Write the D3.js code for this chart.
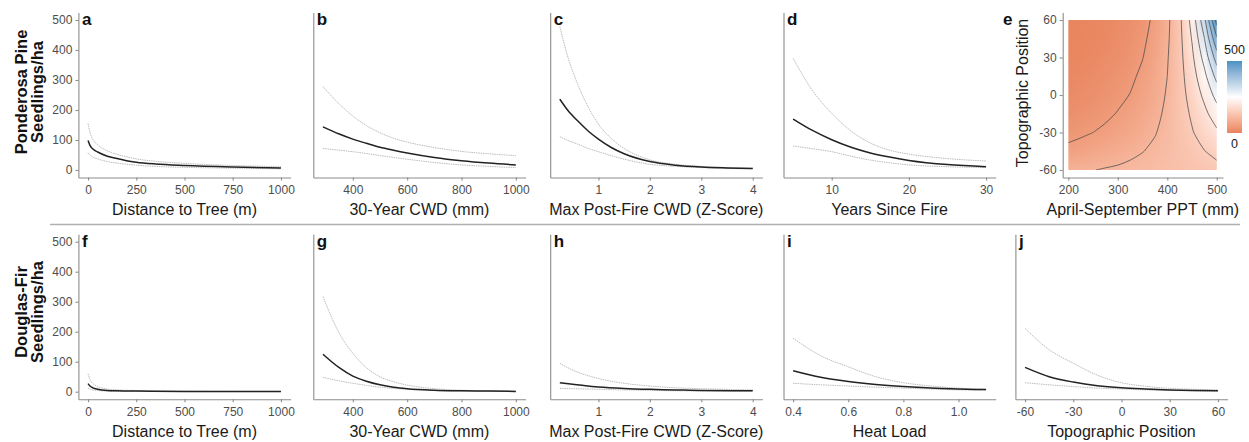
<!DOCTYPE html>
<html>
<head>
<meta charset="utf-8">
<script src="https://cdn.jsdelivr.net/npm/d3@7"></script>
<style>
    body { margin: 0; background: #fff; }
    svg { display: block; font-family: "Liberation Sans", Arial, Helvetica, sans-serif; }
    .axis .domain, .axis .tick line { stroke: #8c8c8c; stroke-width: 1.1; }
    .axis .tick text { fill: #4d4d4d; font-size: 12px; }
    .axis-title { font-size: 16px; fill: #1a1a1a; }
    .row-title { font-size: 16.5px; font-weight: bold; fill: #111; }
    .panel-letter { font-size: 17px; font-weight: bold; fill: #111; }
    .ci { fill: none; stroke: #bdbdbd; stroke-width: 1; stroke-dasharray: 1.5 0.8; }
    .mean { fill: none; stroke: #222; stroke-width: 1.5; }
    .contour { fill: none; stroke: #4a4a4a; stroke-width: 0.9; stroke-opacity: .85; }
    .legend-label { font-size: 12.5px; fill: #1a1a1a; }
</style>
</head>
<body>
<script>

// Data ////////////////////////////////////

// Ponderosa pine
const distX = [0, 10, 25, 50, 100, 150, 200, 250, 350, 500, 750, 1000];
const ppDistMean  = [98, 82, 70, 60, 46, 38, 31, 26, 20, 15, 10, 7];
const ppDistUpper = [155, 125, 102, 84, 64, 52, 44, 37, 29, 22, 15, 11];
const ppDistLower = [58, 50, 43, 37, 28, 23, 19, 16, 12, 9, 6, 4];

const cwdX = [290, 350, 400, 450, 500, 550, 600, 700, 800, 900, 1000];
const ppCwdMean  = [144, 120, 103, 89, 76, 66, 57, 42, 31, 23, 17];
const ppCwdUpper = [278, 220, 180, 148, 124, 106, 93, 75, 62, 54, 48];
const ppCwdLower = [72, 66, 61, 55, 48, 42, 36, 25, 17, 12, 8];

const zX = [0.25, 0.4, 0.6, 0.8, 1, 1.25, 1.5, 2, 2.5, 3, 3.5, 4];
const ppZMean  = [236, 200, 163, 130, 103, 75, 54, 28, 16, 10, 7, 5];
const ppZUpper = [478, 380, 285, 210, 153, 105, 72, 34, 19, 12, 8, 6];
const ppZLower = [111, 99, 86, 72, 61, 48, 36, 19, 12, 8, 5, 4];

const yrsX = [5, 7.5, 10, 12.5, 15, 17.5, 20, 25, 30];
const ppYrsMean  = [170, 132, 101, 76, 57, 43, 32, 18, 11];
const ppYrsUpper = [372, 265, 189, 130, 90, 66, 53, 38, 30];
const ppYrsLower = [80, 71, 61, 46, 33, 24, 17, 11, 8];

// panel e: seedlings/ha on a PPT x topographic position grid
const pptValues = [200, 225, 250, 275, 300, 325, 350, 375, 400, 425, 450, 475, 500];
const tpiValues = [-60, -45, -30, -15, 0, 15, 30, 45, 60];
const pptTpiGrid = [
    [93, 96, 99, 103, 106, 110, 113, 117, 121, 125, 129, 133, 137],
    [60, 65, 71, 77, 83, 91, 99, 107, 116, 126, 137, 149, 162],
    [38, 44, 50, 57, 66, 75, 86, 98, 112, 128, 147, 168, 192],
    [25, 30, 36, 43, 52, 62, 75, 90, 108, 130, 156, 188, 226],
    [16, 20, 25, 32, 41, 51, 65, 82, 104, 132, 167, 211, 268],
    [10, 14, 18, 24, 32, 43, 57, 75, 100, 134, 178, 237, 316],
    [6.5, 9, 13, 18, 25, 35, 49, 69, 97, 136, 190, 267, 374],
    [4, 6, 9, 13, 20, 29, 43, 63, 93, 138, 203, 299, 442],
    [3, 4, 6, 10, 16, 24, 37, 58, 90, 140, 217, 336, 522]
];
const contourLevels = [50, 100, 150, 200, 250, 300, 350, 400, 450, 500];

// Douglas-fir
const dfDistX = [0, 10, 25, 50, 100, 150, 250, 500, 750, 1000];
const dfDistMean  = [27, 19, 13, 8, 4, 3, 2, 1, 0.5, 0.3];
const dfDistUpper = [60, 40, 27, 17, 9, 6, 4, 2, 1, 0.8];
const dfDistLower = [12, 9, 6, 4, 2, 1.5, 1, 0.4, 0.2, 0.1];

const dfCwdMean  = [125, 80, 52, 35, 23, 15, 10, 5, 3, 2, 1];
const dfCwdUpper = [317, 195, 128, 80, 50, 33, 22, 10, 5, 3, 2];
const dfCwdLower = [48, 36, 28, 21, 15, 11, 8, 4, 2, 1, 0.5];

const dfZX = [0.25, 0.5, 0.75, 1, 1.5, 2, 2.5, 3, 4];
const dfZMean  = [30, 25, 20, 16, 11, 8, 6, 4, 3];
const dfZUpper = [95, 72, 56, 44, 28, 19, 13, 10, 6];
const dfZLower = [11, 10, 9, 8, 6, 4.5, 3, 2.5, 1.5];

const heatX = [0.4, 0.5, 0.6, 0.7, 0.8, 0.9, 1.0, 1.1];
const dfHeatMean  = [70, 48, 34, 24, 17, 12, 9, 7];
const dfHeatUpper = [178, 120, 83, 50, 30, 19, 12, 8];
const dfHeatLower = [28, 23, 19, 15, 12, 9, 6, 5];

const tpiX = [-60, -45, -30, -15, 0, 15, 30, 45, 60];
const dfTpiMean  = [81, 50, 32, 20, 13, 9, 6, 4, 3];
const dfTpiUpper = [211, 140, 95, 55, 30, 18, 11, 8, 6];
const dfTpiLower = [30, 23, 17, 12, 9, 6, 4, 3, 2];

// tick labels
const seedTicks = [0, 100, 200, 300, 400, 500];
const distTicks = [0, 250, 500, 750, 1000];
const cwdTicks = [400, 600, 800, 1000];
const zTicks = [1, 2, 3, 4];
const yrsTicks = [10, 20, 30];
const heatTicks = [0.4, 0.6, 0.8, 1.0];
const tpiTicks = [-60, -30, 0, 30, 60];
const pptTicks = [200, 300, 400, 500];
const legendTicks = [0, 500];

// Layout ////////////////////////////////////

const dim = { width: 1249, height: 442 };
const rows = [
    { top: 12.5, bottom: 177.5, labelY: 92, species: "Ponderosa Pine" },
    { top: 234.2, bottom: 399.2, labelY: 312, species: "Douglas-Fir" }
];
const plotW = 212.2;
const expand = 0.05;

const panels = [
    { row: 0, left: 78.4, letter: "a", x: distX, mean: ppDistMean, upper: ppDistUpper, lower: ppDistLower, ticks: distTicks, title: "Distance to Tree (m)", yTicks: true },
    { row: 0, left: 313.3, letter: "b", x: cwdX, mean: ppCwdMean, upper: ppCwdUpper, lower: ppCwdLower, ticks: cwdTicks, title: "30-Year CWD (mm)" },
    { row: 0, left: 550.2, letter: "c", x: zX, mean: ppZMean, upper: ppZUpper, lower: ppZLower, ticks: zTicks, title: "Max Post-Fire CWD (Z-Score)" },
    { row: 0, left: 783.5, letter: "d", x: yrsX, mean: ppYrsMean, upper: ppYrsUpper, lower: ppYrsLower, ticks: yrsTicks, title: "Years Since Fire" },
    { row: 1, left: 78.4, letter: "f", x: dfDistX, mean: dfDistMean, upper: dfDistUpper, lower: dfDistLower, ticks: distTicks, title: "Distance to Tree (m)", yTicks: true },
    { row: 1, left: 313.3, letter: "g", x: cwdX, mean: dfCwdMean, upper: dfCwdUpper, lower: dfCwdLower, ticks: cwdTicks, title: "30-Year CWD (mm)" },
    { row: 1, left: 550.2, letter: "h", x: dfZX, mean: dfZMean, upper: dfZUpper, lower: dfZLower, ticks: zTicks, title: "Max Post-Fire CWD (Z-Score)" },
    { row: 1, left: 783.5, letter: "i", x: heatX, mean: dfHeatMean, upper: dfHeatUpper, lower: dfHeatLower, ticks: heatTicks, title: "Heat Load", fmt: d3.format(".1f") },
    { row: 1, left: 1015.4, letter: "j", x: tpiX, mean: dfTpiMean, upper: dfTpiUpper, lower: dfTpiLower, ticks: tpiTicks, title: "Topographic Position" }
];

const svg = d3.select("body").append("svg")
    .attr("width", dim.width)
    .attr("height", dim.height);

// ggplot style expanded scales
function expanded(lo, hi) {
    const pad = (hi - lo) * expand;
    return [lo - pad, hi + pad];
}

function yScale(row) {
    return d3.scaleLinear()
        .domain(expanded(0, 500))
        .range([row.bottom, row.top]);
}

function addAxes(g, x, y, ticks, fmt, yTicks) {

    const xAxis = d3.axisBottom(x)
        .tickValues(ticks)
        .tickFormat(fmt || (d => String(d)))
        .tickSize(3)
        .tickSizeOuter(0)
        .tickPadding(5);

    g.append("g")
        .attr("class", "axis x")
        .attr("transform", `translate(0, ${ y.range()[0] })`)
        .call(xAxis);

    const yAxis = d3.axisLeft(y)
        .tickValues(yTicks || [])
        .tickFormat(d => String(d))
        .tickSize(3)
        .tickSizeOuter(0)
        .tickPadding(3);

    g.append("g")
        .attr("class", "axis y")
        .attr("transform", `translate(${ x.range()[0] }, 0)`)
        .call(yAxis);
}

function axisTitle(x, y, title) {
    const [x0, x1] = x.range();
    svg.append("text")
        .attr("class", "axis-title")
        .attr("x", (x0 + x1) / 2)
        .attr("y", y.range()[0] + 37.5)
        .attr("text-anchor", "middle")
        .text(title);
}

function panelLetter(x, y, letter) {
    svg.append("text")
        .attr("class", "panel-letter")
        .attr("x", x.range()[0] + 3.5)
        .attr("y", y.range()[1] + 12.5)
        .text(letter);
}

// Row titles ////////////////////////////////////

rows.forEach(row => {
    const t = svg.append("g")
        .attr("transform", `translate(0, ${ row.labelY })`);
    t.append("text")
        .attr("class", "row-title")
        .attr("transform", "translate(27, 0) rotate(-90)")
        .attr("text-anchor", "middle")
        .text(row.species);
    t.append("text")
        .attr("class", "row-title")
        .attr("transform", "translate(42.5, 0) rotate(-90)")
        .attr("text-anchor", "middle")
        .text("Seedlings/ha");
});

// separator between species
svg.append("line")
    .attr("x1", 50).attr("x2", 1240)
    .attr("y1", 224.5).attr("y2", 224.5)
    .attr("stroke", "#b0b0b0")
    .attr("stroke-width", 1.5);

// Line panels ////////////////////////////////////

panels.forEach(p => {

    const row = rows[p.row];
    const x = d3.scaleLinear()
        .domain(expanded(d3.min(p.x), d3.max(p.x)))
        .range([p.left, p.left + plotW]);
    const y = yScale(row);

    const g = svg.append("g");
    addAxes(g, x, y, p.ticks, p.fmt, p.yTicks ? seedTicks : null);

    const line = d3.line()
        .curve(d3.curveMonotoneX)
        .x(d => x(d[0]))
        .y(d => y(d[1]));

    g.append("path")
        .attr("class", "ci")
        .attr("d", line(d3.zip(p.x, p.upper)));
    g.append("path")
        .attr("class", "ci")
        .attr("d", line(d3.zip(p.x, p.lower)));
    g.append("path")
        .attr("class", "mean")
        .attr("d", line(d3.zip(p.x, p.mean)));

    axisTitle(x, y, p.title);
    panelLetter(x, y, p.letter);
});

// Panel e: heat map ////////////////////////////////////

const colour = d3.scaleLinear()
    .domain([0, 250, 500])
    .range(["#e8845d", "#ffffff", "#4b91c3"])
    .interpolate(d3.interpolateLab)
    .clamp(true);

const xe = d3.scaleLinear().domain([188.6, 512.6]).range([1062.7, 1223]);
const ye = yScale(rows[0]);
const yeTpi = d3.scaleLinear()
    .domain(expanded(-60, 60))
    .range(ye.range());

const ge = svg.append("g");
const nx = pptValues.length, ny = tpiValues.length;
const stepX = pptValues[1] - pptValues[0];
const stepY = tpiValues[1] - tpiValues[0];

// raster: one pixel per grid value, smoothed by the browser when scaled
const canvas = document.createElement("canvas");
canvas.width = nx;
canvas.height = ny;
const ctx = canvas.getContext("2d");
const img = ctx.createImageData(nx, ny);
pptTpiGrid.forEach((vals, r) => {
    const row = ny - 1 - r;
    vals.forEach((v, c) => {
        const col = d3.rgb(colour(v));
        const k = (row * nx + c) * 4;
        img.data[k] = col.r;
        img.data[k + 1] = col.g;
        img.data[k + 2] = col.b;
        img.data[k + 3] = 255;
    });
});
ctx.putImageData(img, 0, 0);

svg.append("defs").append("clipPath")
    .attr("id", "clip-e")
    .append("rect")
    .attr("x", xe(pptValues[0]))
    .attr("y", yeTpi(tpiValues[ny - 1]))
    .attr("width", xe(pptValues[nx - 1]) - xe(pptValues[0]))
    .attr("height", yeTpi(tpiValues[0]) - yeTpi(tpiValues[ny - 1]));

ge.append("image")
    .attr("clip-path", "url(#clip-e)")
    .attr("preserveAspectRatio", "none")
    .attr("x", xe(pptValues[0] - stepX / 2))
    .attr("y", yeTpi(tpiValues[ny - 1] + stepY / 2))
    .attr("width", xe(pptValues[nx - 1] + stepX / 2) - xe(pptValues[0] - stepX / 2))
    .attr("height", yeTpi(tpiValues[0] - stepY / 2) - yeTpi(tpiValues[ny - 1] + stepY / 2))
    .attr("href", canvas.toDataURL());

// contour lines
const flat = pptTpiGrid.flat();
const contours = d3.contours()
    .size([nx, ny])
    .thresholds(contourLevels)(flat);

const cx = d3.scaleLinear().domain([0.5, nx - 0.5]).range([xe(pptValues[0]), xe(pptValues[nx - 1])]);
const cy = d3.scaleLinear().domain([0.5, ny - 0.5]).range([yeTpi(tpiValues[0]), yeTpi(tpiValues[ny - 1])]);
const onEdge = p => p[0] === 0 || p[0] === nx || p[1] === 0 || p[1] === ny;

function openRuns(ring) {
    const pts = ring.slice(0, -1);
    const k = pts.findIndex(onEdge);
    if (k < 0) return [ring];
    const rot = pts.slice(k).concat(pts.slice(0, k));
    const runs = [];
    let cur = [];
    rot.forEach(p => {
        if (onEdge(p)) {
            if (cur.length > 1) runs.push(cur);
            cur = [];
        } else {
            cur.push(p);
        }
    });
    if (cur.length > 1) runs.push(cur);
    return runs;
}

const contourLine = d3.line()
    .curve(d3.curveCatmullRom.alpha(0.5))
    .x(d => cx(d[0]))
    .y(d => cy(d[1]));

contours.forEach(c => {
    c.coordinates.forEach(poly => poly.forEach(ring => {
        openRuns(ring).forEach(run => {
            ge.append("path")
                .attr("class", "contour")
                .attr("clip-path", "url(#clip-e)")
                .attr("d", contourLine(run));
        });
    }));
});

addAxes(ge, xe, yeTpi, pptTicks, null, tpiTicks);

svg.append("text")
    .attr("class", "axis-title")
    .attr("x", (xe.range()[0] + xe.range()[1]) / 2)
    .attr("y", ye.range()[0] + 37.5)
    .attr("text-anchor", "middle")
    .text("April-September PPT (mm)");

svg.append("text")
    .attr("class", "axis-title")
    .attr("transform", `translate(1028, 93) rotate(-90)`)
    .attr("text-anchor", "middle")
    .text("Topographic Position");

svg.append("text")
    .attr("class", "panel-letter")
    .attr("x", 1003)
    .attr("y", 25)
    .text("e");

// colour legend
const legend = { x: 1227, y0: 61, y1: 133, w: 15 };
const grad = svg.select("defs").append("linearGradient")
    .attr("id", "legend-grad")
    .attr("x1", 0).attr("x2", 0)
    .attr("y1", 1).attr("y2", 0);
d3.range(0, 501, 50).forEach(v => {
    grad.append("stop")
        .attr("offset", v / 500)
        .attr("stop-color", colour(v));
});
svg.append("rect")
    .attr("x", legend.x)
    .attr("y", legend.y0)
    .attr("width", legend.w)
    .attr("height", legend.y1 - legend.y0)
    .attr("fill", "url(#legend-grad)");

const ly = d3.scaleLinear().domain(legendTicks).range([legend.y1, legend.y0]);
svg.append("g")
    .selectAll("text")
    .data(legendTicks)
    .join("text")
    .attr("class", "legend-label")
    .attr("x", legend.x + legend.w / 2)
    .attr("y", d => d === 0 ? ly(d) + 15 : ly(d) - 7)
    .attr("text-anchor", "middle")
    .text(d => d);

</script>
</body>
</html>
